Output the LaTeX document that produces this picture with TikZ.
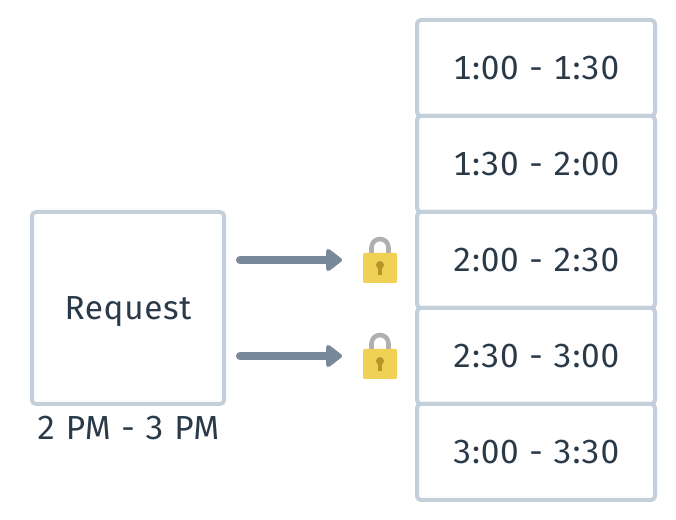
\documentclass[tikz,border=0pt]{standalone}
\usepackage{fontspec}
\setmainfont[Numbers={Tabular,Lining}, WordSpace=1.1, LetterSpace=2]{Fira Sans}
\usetikzlibrary{arrows.meta}
\definecolor{slotline}{HTML}{C3CFDB}
\definecolor{slottext}{HTML}{2A3A48}
\definecolor{arrowgray}{HTML}{76889A}
\definecolor{lockgold}{HTML}{EFD255}
\definecolor{lockhole}{HTML}{B8952B}
\definecolor{lockbar}{HTML}{B0B0B0}
\tikzset{
	slot/.style={draw=slotline, line width=3pt, rounded corners=3pt, fill=white, minimum width=178.5pt, minimum height=72pt, inner sep=0pt, text=slottext, text depth=0pt, font=\fontsize{25}{30}\selectfont},
	request/.style={slot, minimum width=144pt, minimum height=144pt},
	caption/.style={text=slottext, text depth=0pt, font=\fontsize{25}{30}\selectfont},
	lockarrow/.style={draw=arrowgray, line width=6pt, line cap=round, -{Triangle[round, length=13pt, width=19pt]}}
}
\begin{document}
\begin{tikzpicture}[x=0.75pt, y=-0.75pt, line join=round]
	\useasboundingbox (0,0) rectangle (676,520);
	\foreach \y/\t in {68/1:00 - 1:30, 164/1:30 - 2:00, 260/2:00 - 2:30, 356/2:30 - 3:00, 452/3:00 - 3:30}
		\node[slot] (slot\y) at (536,\y) {\t};
	\node[request] (req) at (128,308) {Request};
	\node[caption] (reqtime) at (128,428) {2 PM - 3 PM};
	\foreach \y in {260,356}{
		\coordinate (from\y) at (240,\y);
		\coordinate (to\y) at (342,\y);
		\draw[lockarrow] (from\y)--(to\y);
		% lock
		\draw[lockbar, line width=3.4pt] (371.5,\y-2)--(371.5,\y-12.5) arc[start angle=180, end angle=360, radius=8.5]--(388.5,\y-2);
		\fill[lockgold, rounded corners=1pt] (363,\y-7) rectangle (397,\y+23);
		\fill[lockhole] (380,\y+5) circle (4);
		\fill[lockhole] (378,\y+5) rectangle (382,\y+15);
	}
\end{tikzpicture}
\end{document}
